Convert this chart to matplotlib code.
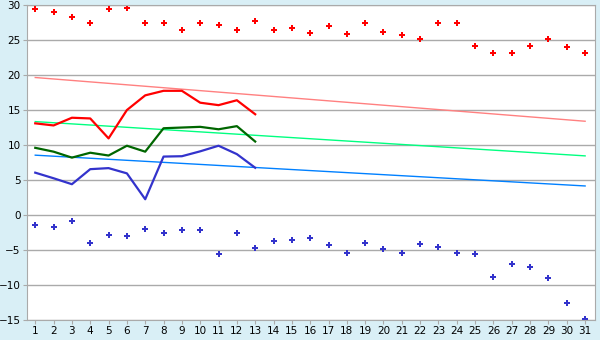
import matplotlib.pyplot as plt

# --------------- data --------------- #
days = list(range(1, 32))

max_points = [29.4, 28.95, 28.3, 27.4, 29.4, 29.6, 27.4, 27.4, 26.5, 27.5,
              27.1, 26.4, 27.7, 26.4, 26.7, 26.0, 26.95, 25.8, 27.5, 26.1,
              25.7, 25.2, 27.4, 27.5, 24.2, 23.2, 23.2, 24.2, 25.1, 24.0, 23.2]
min_points = [-1.5, -1.75, -0.9, -4.05, -2.9, -3.05, -2.05, -2.6, -2.2, -2.2,
              -5.6, -2.6, -4.75, -3.75, -3.6, -3.35, -4.35, -5.5, -4.05, -4.9,
              -5.5, -4.2, -4.6, -5.5, -5.6, -8.9, -7.05, -7.5, -9.05, -12.6, -14.9]

line_days = list(range(1, 14))
max_line = [13.1, 12.8, 13.9, 13.8, 10.95, 15.0, 17.1, 17.75, 17.75, 16.05, 15.7, 16.4, 14.4]
mean_line = [9.6, 9.05, 8.2, 8.9, 8.5, 9.9, 9.05, 12.4, 12.5, 12.6, 12.25, 12.7, 10.5]
min_line = [6.05, 5.25, 4.4, 6.55, 6.7, 5.95, 2.25, 8.35, 8.4, 9.1, 9.9, 8.7, 6.75]

trend_days = [1, 31]
max_trend = [19.65, 13.4]
mean_trend = [13.35, 8.45]
min_trend = [8.55, 4.15]

# --------------- plot --------------- #
fig = plt.figure(figsize=(6, 3.4), dpi=100, facecolor='#d9eff6')
ax = fig.add_axes([0.045, 0.059, 0.947, 0.926])
ax.set_facecolor('white')

ax.plot(trend_days, max_trend, color='#ff8080', lw=1)
ax.plot(trend_days, mean_trend, color='#00ff80', lw=1)
ax.plot(trend_days, min_trend, color='#0080ff', lw=1)

ax.plot(line_days, max_line, color='#ff0000', lw=1.6)
ax.plot(line_days, mean_line, color='#006600', lw=1.6)
ax.plot(line_days, min_line, color='#3333cc', lw=1.6)

ax.plot(days, max_points, ls='none', marker='P', ms=4.5, color='#ff0000', mew=0)
ax.plot(days, min_points, ls='none', marker='P', ms=4.5, color='#3333cc', mew=0)

ax.set_xlim(0.55, 31.55)
ax.set_ylim(-15, 30)
ax.set_xticks(days)
ax.set_yticks(range(-15, 31, 5))
ax.grid(axis='y', color='#aaaaaa', lw=1)
ax.set_axisbelow(True)
for s in ax.spines.values():
    s.set_color('#aaaaaa')
ax.tick_params(colors='#aaaaaa', labelcolor='black', labelsize=7.5, length=3, pad=1.5)

fig.savefig('out.png', dpi=100, facecolor=fig.get_facecolor())
